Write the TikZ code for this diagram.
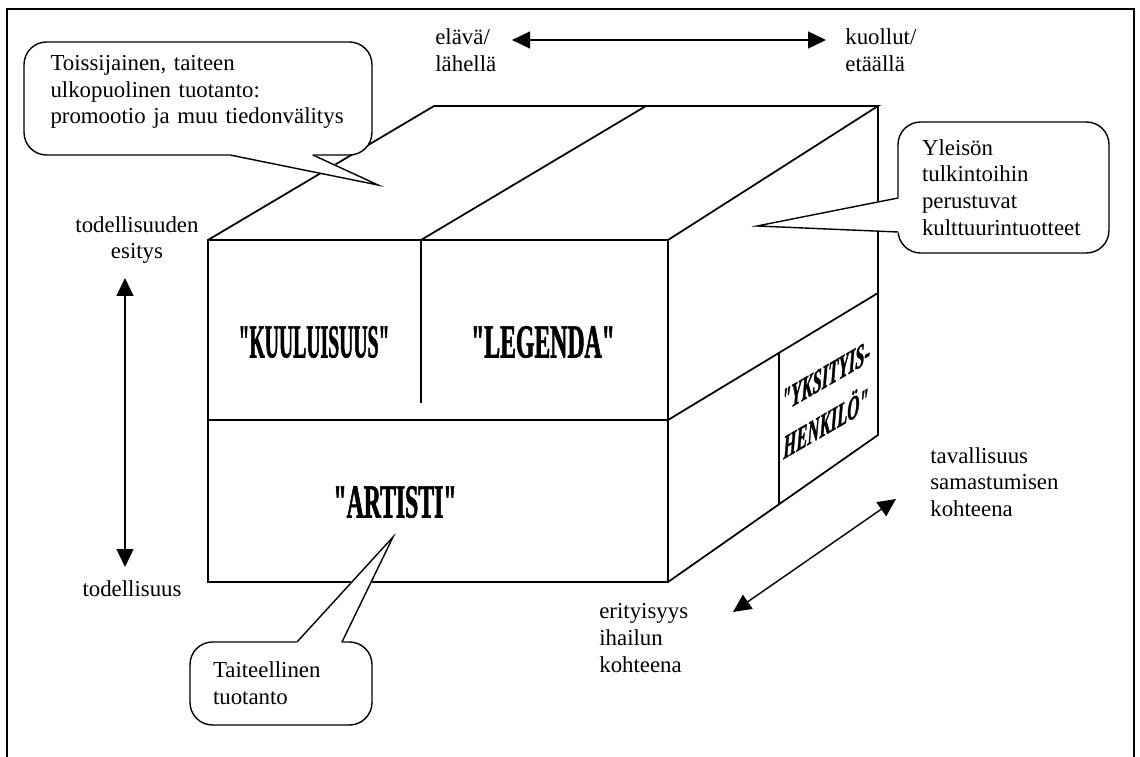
\documentclass[tikz,border=0pt]{standalone}
\usepackage{fontspec}
\setmainfont{Liberation Serif}
\newfontfamily\condfont{Liberation Serif}[FakeStretch=0.5, Ligatures=TeXOff, BoldFeatures={FakeBold=1.2}, BoldItalicFeatures={FakeBold=1}]
\usetikzlibrary{arrows.meta}
\tikzset{
  bubble/.style={draw, fill=white, rounded corners=0.45cm, align=left, line width=0.8pt},
  cubeline/.style={line width=1pt},
  biglabel/.style={font=\condfont\bfseries\fontsize{27}{30}\selectfont},
  twoway/.style={{Triangle[length=0.36cm,width=0.34cm]}-{Triangle[length=0.36cm,width=0.34cm]}, line width=0.8pt},
  note/.style={inner sep=0pt, align=left}
}
% tail of a speech bubble: base point, tip, base point
\newcommand{\bubbletail}[3]{%
  \filldraw[white, line width=1pt, line join=round] (#1) -- (#2) -- (#3) -- cycle;
  \draw[line width=0.8pt, line cap=round, line join=miter] (#1) -- (#2) -- (#3);}
\begin{document}
\begin{tikzpicture}[x=0.02cm, y=-0.02cm, font=\fontsize{13}{15.2}\selectfont]
\useasboundingbox (0,0) rectangle (1140,757);
% Frame
\draw[line width=0.8pt] (7,780) -- (7,9) -- (1134,9) -- (1134,780);
% Box corners
\coordinate (front-tl) at (208,240);
\coordinate (front-tr) at (668,240);
\coordinate (front-bl) at (208,582);
\coordinate (front-br) at (668,582);
\coordinate (back-tl) at (434,106);
\coordinate (back-tm) at (646,106);
\coordinate (back-tr) at (878,106);
\coordinate (back-mr) at (878,293);
\coordinate (back-br) at (878,435);
% Draw the box
\draw[cubeline] (front-tl) rectangle (front-br);
\draw[cubeline] (front-tl) -- (back-tl) -- (back-tr) -- (front-tr);
\draw[cubeline] (421,240) -- (back-tm);
\draw[cubeline] (back-tr) -- (back-br) -- (front-br);
\draw[cubeline] (208,420) -- (668,420) -- (back-mr);
\draw[cubeline] (421,240) -- (421,403);
\draw[cubeline] (779,353) -- (779,504);
% Labels on the box
\node[biglabel] (kuul) at (314,342) {\scalebox{0.83}[1]{"KUULUISUUS"}};
\node[biglabel] (legenda) at (543,342) {"LEGENDA"};
\node[biglabel] (artisti) at (395,502) {"ARTISTI"};
\begin{scope}[shift={(826,400)}, yslant=0.58]
\node[transform shape, align=center, font=\condfont\bfseries\itshape\fontsize{19}{27}\selectfont] (yksit) at (0,0) {"YKSITYIS-\\HENKILÖ"};
\end{scope}
% Top axis
\node[note, anchor=west] (elava) at (435,50) {elävä/\\lähellä};
\node[note, anchor=west] (kuollut) at (845,50) {kuollut/\\etäällä};
\coordinate (elava-end) at (512,40);
\coordinate (kuollut-end) at (826,40);
\draw[twoway] (elava-end) -- (kuollut-end);
% Left axis
\node[align=center] (esitys) at (137,240) {todellisuuden\\esitys};
\node (todell) at (132,589) {todellisuus};
\coordinate (esitys-end) at (125,278);
\coordinate (todell-end) at (125,567);
\draw[twoway] (esitys-end) -- (todell-end);
% Depth axis
\node[note, anchor=west] (taval) at (930,482) {tavallisuus\\samastumisen\\kohteena};
\node[note, anchor=west] (erit) at (599,638) {erityisyys\\ihailun\\kohteena};
\coordinate (erit-end) at (733,612);
\coordinate (taval-end) at (896,499);
\draw[twoway] (erit-end) -- (taval-end);
% Speech bubbles
\node[bubble, text width=5.9cm, inner xsep=0.53cm, minimum height=2.26cm, text depth=1.42cm] (toiss) at (198,98.5)
  {Toissijainen, taiteen\\ulkopuolinen tuotanto:\\promootio ja muu tiedonvälitys};
\coordinate (toiss-tip) at (378,185);
\bubbletail{230,155}{toiss-tip}{313,155}
\node[bubble, text width=3.26cm, inner xsep=0.48cm, minimum height=2.62cm] (yleiso) at (1003.5,187.5)
  {Yleisön\\tulkintoihin\\perustuvat\\kulttuurintuotteet};
\coordinate (yleiso-tip) at (757,226);
\bubbletail{898,198}{yleiso-tip}{898,232}
\node[bubble, text width=2.72cm, inner xsep=0.46cm, minimum height=1.66cm] (taiteel) at (281,683.5)
  {Taiteellinen\\tuotanto};
\coordinate (taiteel-tip) at (393,537);
\bubbletail{297,642}{taiteel-tip}{342,642}
\end{tikzpicture}
\end{document}
